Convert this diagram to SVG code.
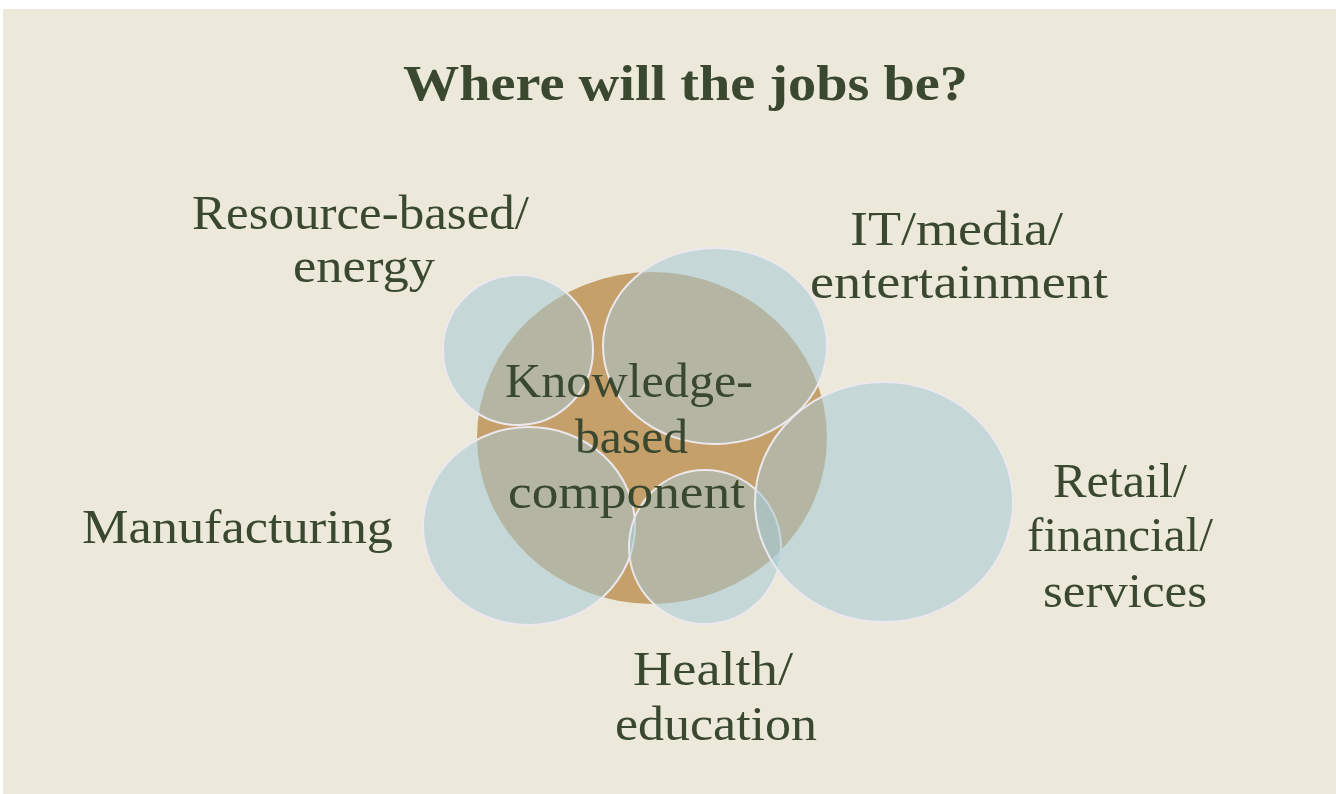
<svg xmlns="http://www.w3.org/2000/svg" width="1336" height="794" viewBox="0 0 1336 794">
<style>
.lbl{font-family:"Liberation Serif","DejaVu Serif",serif;font-size:49px;fill:#3a4830}
.title{font-family:"Liberation Serif","DejaVu Serif",serif;font-size:50px;font-weight:bold;fill:#3a4830}
.bub{fill:#a6c9d4;fill-opacity:0.54;stroke:#ece8ee;stroke-width:2}
</style>
<rect x="0" y="0" width="1336" height="794" fill="#ffffff"/>
<rect x="3" y="9" width="1333" height="785" fill="#ece8da"/>
<text class="title" x="403" y="100" textLength="565" lengthAdjust="spacingAndGlyphs">Where will the jobs be?</text>
<g id="knowledge">
<ellipse cx="652" cy="438" rx="175" ry="166" fill="#c5a06a"/>
</g>
<g id="resource"><ellipse class="bub" cx="518" cy="350" rx="75" ry="75"/><text class="lbl" x="192" y="229" textLength="337" lengthAdjust="spacingAndGlyphs">Resource-based/</text><text class="lbl" x="293" y="282" textLength="142" lengthAdjust="spacingAndGlyphs">energy</text></g>
<g id="it"><ellipse class="bub" cx="715" cy="346" rx="112" ry="98"/><text class="lbl" x="850" y="245" textLength="213" lengthAdjust="spacingAndGlyphs">IT/media/</text><text class="lbl" x="810" y="298" textLength="298" lengthAdjust="spacingAndGlyphs">entertainment</text></g>
<g id="manufacturing"><ellipse class="bub" cx="529" cy="526" rx="106" ry="99"/><text class="lbl" x="82" y="543" textLength="311" lengthAdjust="spacingAndGlyphs">Manufacturing</text></g>
<g id="health"><ellipse class="bub" cx="705" cy="547" rx="76" ry="77"/><text class="lbl" x="633" y="685" textLength="160" lengthAdjust="spacingAndGlyphs">Health/</text><text class="lbl" x="615" y="740" textLength="202" lengthAdjust="spacingAndGlyphs">education</text></g>
<g id="retail"><ellipse class="bub" cx="884" cy="502" rx="129" ry="120"/><text class="lbl" x="1053" y="497" textLength="134" lengthAdjust="spacingAndGlyphs">Retail/</text><text class="lbl" x="1027" y="551" textLength="186" lengthAdjust="spacingAndGlyphs">financial/</text><text class="lbl" x="1043" y="607" textLength="164" lengthAdjust="spacingAndGlyphs">services</text></g>
<g id="knowledge-label"><text class="lbl" x="505" y="397" textLength="248" lengthAdjust="spacingAndGlyphs">Knowledge-</text><text class="lbl" x="575" y="453" textLength="113" lengthAdjust="spacingAndGlyphs">based</text><text class="lbl" x="508" y="508" textLength="237" lengthAdjust="spacingAndGlyphs">component</text></g>
<g id="connectors"/>
</svg>
